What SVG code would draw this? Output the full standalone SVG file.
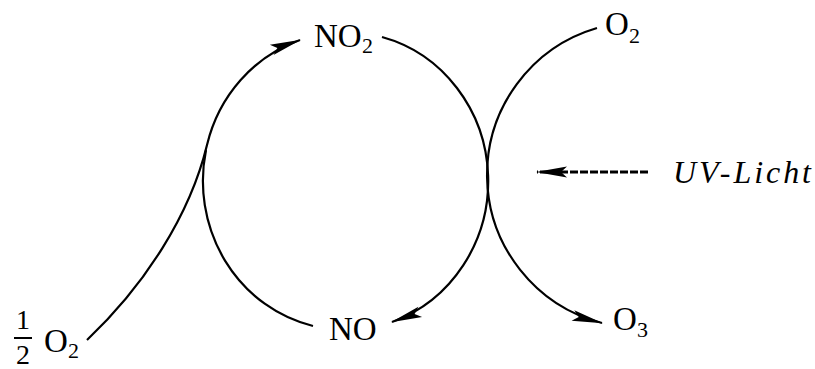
<svg xmlns="http://www.w3.org/2000/svg" width="815" height="369" viewBox="0 0 815 369">
<style>
.t{font-family:"Liberation Serif","Times New Roman",serif;font-size:33px;fill:#000}
.s{font-size:22px}
.f{font-size:28px}
.i{font-style:italic;font-size:32px}
.c{fill:none;stroke:#000;stroke-width:2.2}
.d{stroke-dasharray:8 2;stroke-width:2.8}
</style>
<defs>
<marker id="ah" markerUnits="userSpaceOnUse" viewBox="-32 -7 34 14" refX="0" refY="0" markerWidth="34" markerHeight="14" orient="auto">
<path d="M1,0 L-30,-5.5 L-24,0 L-30,5.5 Z" fill="#000"/>
</marker>
</defs>
<g id="connectors">
<path class="c" d="M87,340 C145,285 190,215 207,145 A142.5,149 0 0 1 300,40" marker-end="url(#ah)"/>
<path class="c" d="M313,326 A142.5,149 0 0 1 206,150"/>
<path class="c" d="M382,37 A142.5,149 0 0 1 392,322" marker-end="url(#ah)"/>
<path class="c" d="M597,28 A153,153 0 0 0 602,323" marker-end="url(#ah)"/>
<path class="c d" d="M648,172 L537,172" marker-end="url(#ah)"/>
</g>
<g id="half-o2">
<text class="t f" x="23" y="329" text-anchor="middle">1</text>
<line x1="14" y1="338" x2="32" y2="338" stroke="#000" stroke-width="2"/>
<text class="t f" x="23" y="364" text-anchor="middle">2</text>
<text class="t" x="44" y="352">O</text>
<text class="t s" x="68" y="358">2</text>
</g>
<g id="no2">
<text class="t" x="314" y="47">NO</text>
<text class="t s" x="362" y="53">2</text>
</g>
<g id="no">
<text class="t" x="329" y="340">NO</text>
</g>
<g id="o2">
<text class="t" x="605" y="35">O</text>
<text class="t s" x="629" y="43">2</text>
</g>
<g id="o3">
<text class="t" x="613" y="330">O</text>
<text class="t s" x="637" y="337">3</text>
</g>
<g id="uv">
<text class="t i" x="673" y="183" textLength="138" lengthAdjust="spacing">UV-Licht</text>
</g>
</svg>
